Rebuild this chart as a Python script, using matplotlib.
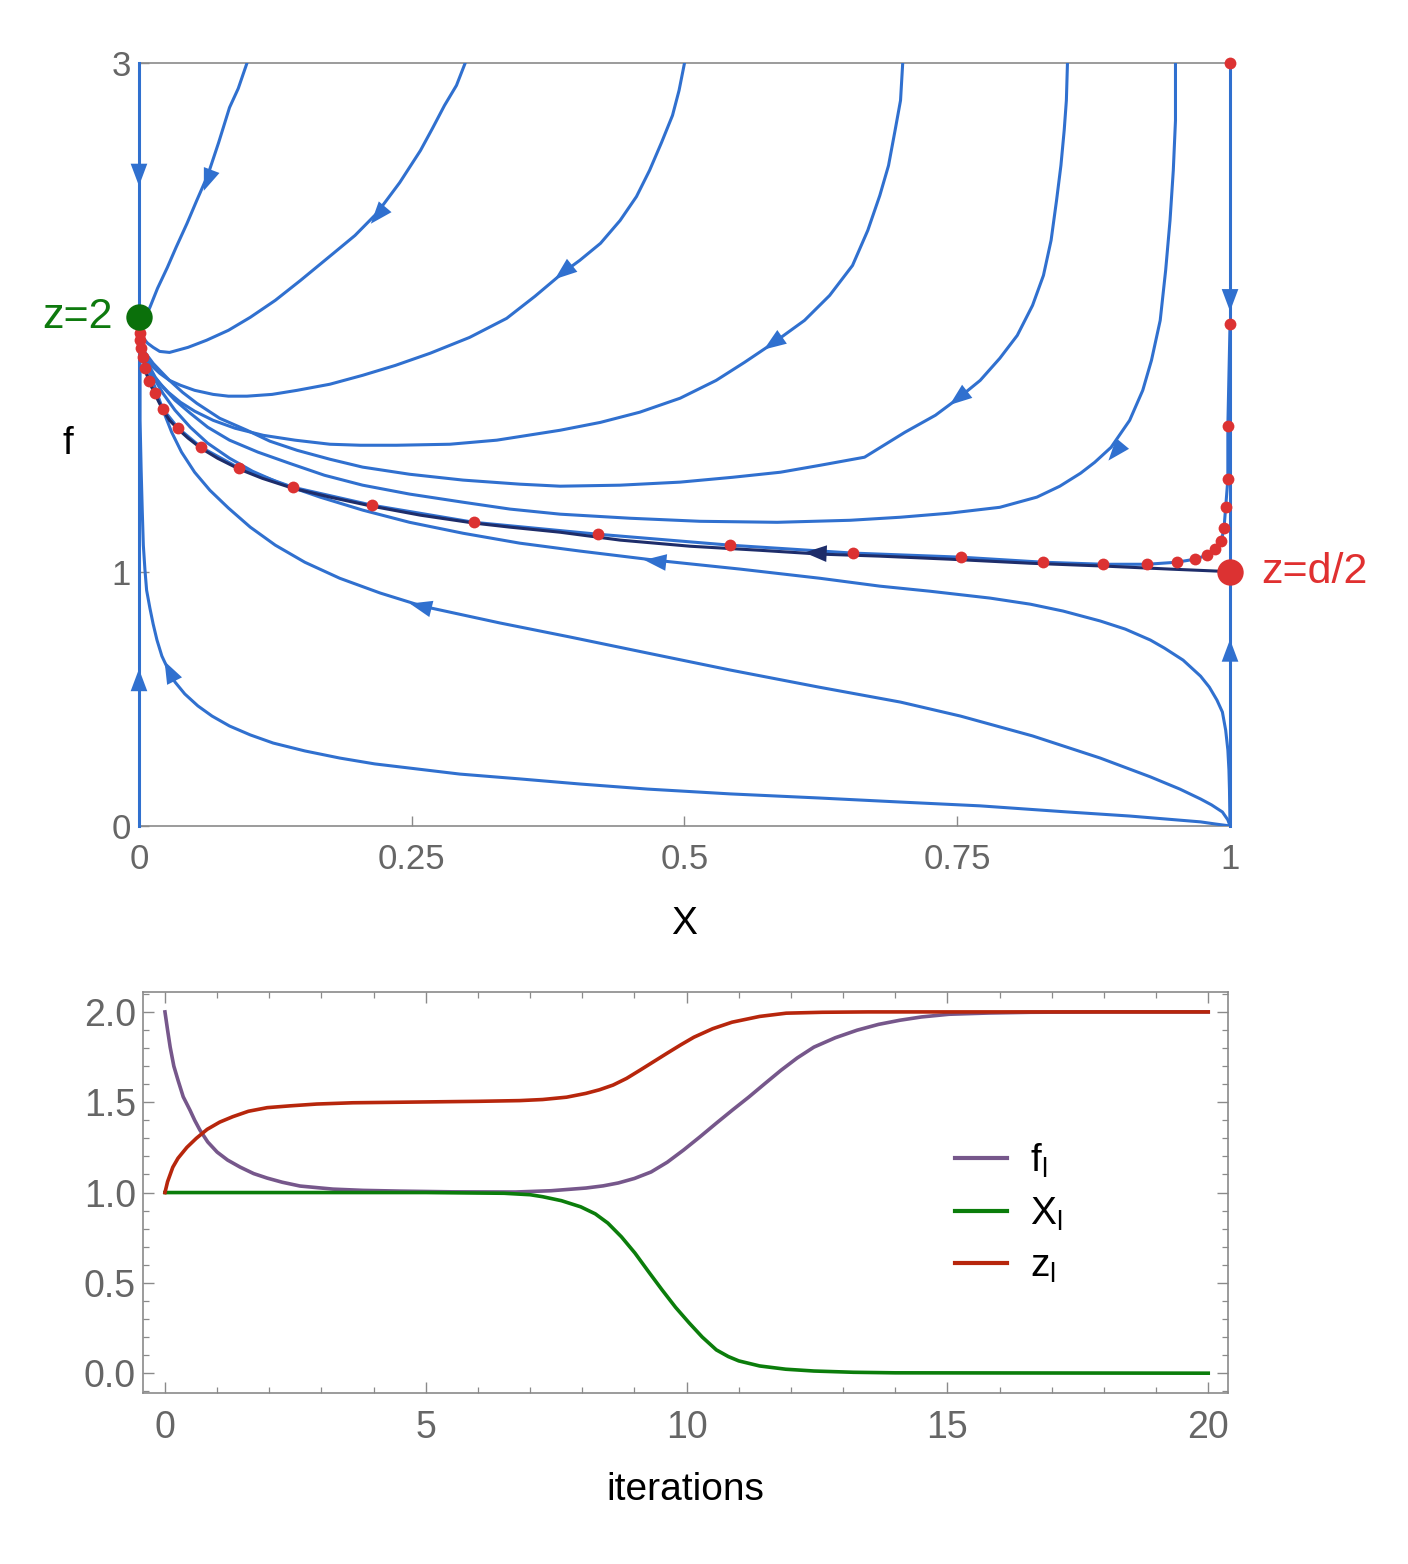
import numpy as np
import matplotlib
matplotlib.use("Agg")
import matplotlib.pyplot as plt
from matplotlib.patches import FancyArrowPatch
from matplotlib.ticker import MultipleLocator, FormatStrFormatter

plt.rcParams['font.family'] = ['Liberation Sans', 'DejaVu Sans']
plt.rcParams['mathtext.default'] = 'regular'

# ---------------- top panel: stream lines (X, f), listed in flow direction
sA_x = [0.099, 0.091, 0.083, 0.073, 0.063, 0.053, 0.044, 0.034, 0.026, 0.017, 0.010, 0.0055, 0.002, 0.001]
sA_f = [3.0, 2.900, 2.825, 2.687, 2.558, 2.460, 2.369, 2.275, 2.196, 2.114, 2.039, 1.996, 1.957, 1.929]

sB_x = [0.299, 0.291, 0.280, 0.269, 0.258, 0.239, 0.218, 0.198, 0.178, 0.148, 0.125, 0.102, 0.082,
        0.062, 0.045, 0.028, 0.019, 0.013, 0.008, 0.0055, 0.003, 0.001]
sB_f = [3.0, 2.912, 2.833, 2.743, 2.656, 2.530, 2.409, 2.322, 2.251, 2.145, 2.067, 2.0, 1.949,
        1.910, 1.882, 1.862, 1.866, 1.882, 1.898, 1.910, 1.929, 1.949]

sC_x = [0.500, 0.495, 0.489, 0.479, 0.468, 0.456, 0.441, 0.423, 0.404, 0.389, 0.363, 0.337, 0.303,
        0.267, 0.235, 0.205, 0.175, 0.145, 0.122, 0.099, 0.082, 0.068, 0.051, 0.038, 0.028, 0.019,
        0.013, 0.008, 0.004, 0.001]
sC_f = [3.0, 2.892, 2.794, 2.688, 2.578, 2.475, 2.381, 2.291, 2.224, 2.177, 2.083, 1.996, 1.921,
        1.859, 1.811, 1.772, 1.737, 1.713, 1.697, 1.690, 1.690, 1.697, 1.713, 1.733, 1.752, 1.780,
        1.804, 1.831, 1.870, 1.929]

sD_x = [0.700, 0.698, 0.693, 0.687, 0.679, 0.668, 0.654, 0.633, 0.610, 0.581, 0.555, 0.529, 0.496,
        0.459, 0.423, 0.386, 0.328, 0.285, 0.236, 0.203, 0.175, 0.143, 0.114, 0.088, 0.068, 0.051,
        0.038, 0.027, 0.019, 0.013, 0.008, 0.004, 0.001]
sD_f = [3.0, 2.853, 2.735, 2.597, 2.479, 2.342, 2.204, 2.086, 1.988, 1.898, 1.823, 1.752, 1.682,
        1.627, 1.587, 1.556, 1.517, 1.501, 1.497, 1.497, 1.501, 1.517, 1.536, 1.564, 1.595, 1.631,
        1.666, 1.705, 1.741, 1.772, 1.804, 1.859, 1.917]

sE_x = [0.851, 0.850, 0.848, 0.845, 0.841, 0.836, 0.829, 0.819, 0.805, 0.789, 0.771, 0.751, 0.730,
        0.702, 0.665, 0.624, 0.588, 0.544, 0.496, 0.441, 0.386, 0.349, 0.297, 0.248, 0.205, 0.175,
        0.145, 0.120, 0.099, 0.074, 0.053, 0.040, 0.028, 0.019, 0.013, 0.0055, 0.001]
sE_f = [3.0, 2.853, 2.735, 2.597, 2.460, 2.303, 2.165, 2.047, 1.929, 1.839, 1.752, 1.682, 1.615,
        1.548, 1.450, 1.418, 1.391, 1.371, 1.352, 1.340, 1.336, 1.344, 1.360, 1.383, 1.411, 1.442,
        1.477, 1.513, 1.556, 1.603, 1.662, 1.705, 1.752, 1.792, 1.819, 1.862, 1.917]

sF_x = [0.950, 0.950, 0.948, 0.945, 0.941, 0.936, 0.928, 0.920, 0.908, 0.891, 0.876, 0.863, 0.844,
        0.823, 0.789, 0.743, 0.698, 0.652, 0.585, 0.514, 0.450, 0.386, 0.340, 0.297, 0.248, 0.205,
        0.170, 0.138, 0.109, 0.083, 0.063, 0.047, 0.033, 0.022, 0.015, 0.010, 0.0055, 0.004, 0.001]
sF_f = [3.0, 2.774, 2.578, 2.381, 2.185, 1.988, 1.831, 1.713, 1.595, 1.489, 1.430, 1.387, 1.336,
        1.293, 1.253, 1.230, 1.214, 1.202, 1.194, 1.198, 1.210, 1.226, 1.246, 1.273, 1.305, 1.340,
        1.379, 1.426, 1.470, 1.517, 1.568, 1.623, 1.674, 1.725, 1.764, 1.804, 1.839, 1.862, 1.917]

sG_x = [1.0, 0.9995, 0.999, 0.998, 0.996, 0.993, 0.988, 0.981, 0.973, 0.957, 0.940, 0.927, 0.904,
        0.881, 0.847, 0.817, 0.780, 0.725, 0.679, 0.624, 0.551, 0.473, 0.404, 0.349, 0.297, 0.248,
        0.205, 0.166, 0.129, 0.104, 0.083, 0.063, 0.047, 0.033, 0.022, 0.015, 0.010, 0.0055, 0.004,
        0.001]
sG_f = [0.0, 0.141, 0.220, 0.299, 0.377, 0.448, 0.495, 0.546, 0.589, 0.652, 0.699, 0.731, 0.774,
        0.806, 0.845, 0.872, 0.896, 0.923, 0.943, 0.974, 1.010, 1.045, 1.081, 1.112, 1.151, 1.194,
        1.242, 1.293, 1.348, 1.395, 1.446, 1.505, 1.568, 1.635, 1.701, 1.752, 1.792, 1.839, 1.862,
        1.917]

sH_x = [1.0, 0.998, 0.993, 0.983, 0.973, 0.954, 0.927, 0.881, 0.819, 0.753, 0.698, 0.623, 0.542,
        0.466, 0.395, 0.331, 0.260, 0.221, 0.184, 0.152, 0.125, 0.102, 0.082, 0.065, 0.051, 0.039,
        0.030, 0.022, 0.015, 0.009, 0.0046, 0.001]
sH_f = [0.0, 0.024, 0.055, 0.083, 0.106, 0.145, 0.193, 0.267, 0.354, 0.432, 0.487, 0.546, 0.613,
        0.680, 0.743, 0.798, 0.864, 0.916, 0.974, 1.037, 1.104, 1.175, 1.250, 1.320, 1.391, 1.470,
        1.548, 1.635, 1.721, 1.792, 1.851, 1.917]

sI_x = [1.0, 0.986, 0.973, 0.908, 0.851, 0.771, 0.698, 0.623, 0.542, 0.466, 0.404, 0.349, 0.294,
        0.255, 0.216, 0.184, 0.152, 0.123, 0.102, 0.083, 0.067, 0.054, 0.042, 0.033, 0.027, 0.021,
        0.0165, 0.013, 0.010, 0.007, 0.0055, 0.004, 0.003, 0.002, 0.001, 0.001, 0.001]
sI_f = [0.0, 0.008, 0.016, 0.039, 0.055, 0.079, 0.094, 0.110, 0.126, 0.145, 0.165, 0.185, 0.204,
        0.224, 0.244, 0.267, 0.295, 0.326, 0.358, 0.393, 0.432, 0.472, 0.519, 0.566, 0.613, 0.668,
        0.731, 0.794, 0.857, 0.927, 1.006, 1.104, 1.242, 1.399, 1.595, 1.752, 1.917]

# unstable branch leaving the saddle (1, 1)
navy_x = [1.0, 0.945, 0.884, 0.817, 0.743, 0.679, 0.624, 0.569, 0.505, 0.441, 0.386, 0.340, 0.307,
          0.258, 0.214, 0.175, 0.141, 0.113, 0.092, 0.072, 0.057, 0.045, 0.036, 0.028, 0.022, 0.016,
          0.010, 0.006, 0.004, 0.002, 0.001]
navy_f = [1.0, 1.010, 1.022, 1.033, 1.049, 1.061, 1.069, 1.084, 1.100, 1.124, 1.155, 1.175, 1.191,
          1.222, 1.257, 1.293, 1.328, 1.367, 1.403, 1.446, 1.485, 1.525, 1.560, 1.595, 1.635, 1.686,
          1.741, 1.792, 1.839, 1.878, 1.917]

# iterates (red dots)
dots_x = [1.0, 1.0, 0.998, 0.998, 0.996, 0.9945, 0.992, 0.986, 0.979, 0.968, 0.951, 0.924, 0.884, 0.829,
          0.753, 0.654, 0.542, 0.421, 0.307, 0.214, 0.141, 0.092, 0.057, 0.036, 0.022, 0.015, 0.009,
          0.0055, 0.0037, 0.002, 0.001, 0.001]
dots_f = [3.0, 1.972, 1.572, 1.363, 1.253, 1.171, 1.120, 1.088, 1.065, 1.049, 1.037, 1.029, 1.029, 1.037,
          1.057, 1.073, 1.104, 1.147, 1.194, 1.261, 1.332, 1.407, 1.489, 1.564, 1.639, 1.701, 1.749,
          1.800, 1.843, 1.878, 1.910, 1.937]

# arrow positions on each stream line
arrow_pos = {'A': (0.063, 2.538), 'B': (0.219, 2.401), 'C': (0.389, 2.177), 'D': (0.581, 1.898),
             'E': (0.751, 1.682), 'F': (0.895, 1.470), 'G': (0.473, 1.041), 'H': (0.258, 0.864),
             'I': (0.028, 0.609)}
navy_arrow = (0.620, 1.073)

# ---------------- bottom panel: iterations
t_f = [0, 0.05, 0.1, 0.17, 0.25, 0.35, 0.48, 0.57, 0.67, 0.82, 1.0, 1.2, 1.44, 1.7, 1.96, 2.25, 2.59,
       3.22, 3.8, 4.5, 5.5, 6.72, 7.4, 8.07, 8.4, 8.69, 9.0, 9.32, 9.63, 9.94, 10.25, 10.57, 10.88,
       11.19, 11.5, 11.81, 12.12, 12.44, 12.85, 13.27, 13.68, 14.09, 14.5, 15.03, 15.8, 16.59, 18, 20]
f_l = [2.0, 1.90, 1.805, 1.70, 1.622, 1.53, 1.456, 1.40, 1.346, 1.28, 1.224, 1.18, 1.141, 1.105, 1.080,
       1.057, 1.036, 1.019, 1.012, 1.008, 1.004, 1.003, 1.010, 1.025, 1.037, 1.053, 1.078, 1.114, 1.168,
       1.235, 1.307, 1.384, 1.457, 1.528, 1.603, 1.677, 1.745, 1.805, 1.857, 1.899, 1.931, 1.954, 1.972,
       1.987, 1.994, 1.998, 2.0, 2.0]

t_X = [0, 5.0, 6.5, 7.0, 7.24, 7.6, 7.97, 8.25, 8.49, 8.75, 9.01, 9.27, 9.53, 9.79, 10.05, 10.3, 10.57,
       10.8, 11.0, 11.4, 11.9, 12.44, 13.2, 14.0, 20]
X_l = [1.0, 1.0, 0.996, 0.988, 0.977, 0.955, 0.921, 0.882, 0.831, 0.755, 0.665, 0.562, 0.461, 0.364,
       0.278, 0.200, 0.129, 0.092, 0.068, 0.040, 0.022, 0.012, 0.005, 0.002, 0.0]

t_z = [0, 0.05, 0.15, 0.25, 0.42, 0.6, 0.81, 1.05, 1.3, 1.6, 1.96, 2.4, 2.91, 3.6, 4.5, 6.0, 6.8, 7.24,
       7.7, 8.07, 8.33, 8.59, 8.85, 9.11, 9.37, 9.63, 9.89, 10.14, 10.5, 10.87, 11.4, 11.91, 12.6, 13.48, 20]
z_l = [1.0, 1.06, 1.14, 1.19, 1.25, 1.30, 1.35, 1.39, 1.42, 1.45, 1.47, 1.48, 1.49, 1.497, 1.50, 1.505,
       1.509, 1.515, 1.528, 1.549, 1.569, 1.595, 1.632, 1.678, 1.725, 1.772, 1.818, 1.860, 1.907, 1.943,
       1.975, 1.993, 1.998, 2.0, 2.0]

blue = '#3070cf'
navy = '#1e2d6a'
red = '#dc3232'
green = '#0b700b'
gray = '#8a8a8a'
tickc = '#666666'

fig = plt.figure(figsize=(14.08, 15.64), dpi=100)

# ================= top panel
ax = fig.add_axes([0.0987, 0.4719, 0.7749, 0.4878])
ax.set_xlim(0, 1)
ax.set_ylim(0, 3)

curves = {'A': (sA_x, sA_f), 'B': (sB_x, sB_f), 'C': (sC_x, sC_f), 'D': (sD_x, sD_f),
          'E': (sE_x, sE_f), 'F': (sF_x, sF_f), 'G': (sG_x, sG_f), 'H': (sH_x, sH_f),
          'I': (sI_x, sI_f)}
for k, (xs, fs) in curves.items():
    ax.plot(xs, fs, color=blue, lw=2.2, zorder=3, solid_joinstyle='round')

# edges x=0 and x=1
ax.plot([0, 0], [0, 3], color=blue, lw=2.2, zorder=3, clip_on=False)
ax.plot([1, 1], [0, 3], color=blue, lw=2.2, zorder=3, clip_on=False)
# stream line along the iterates
ax.plot(dots_x[1:], dots_f[1:], color=blue, lw=2.2, zorder=3, solid_joinstyle='round')
ax.plot(navy_x, navy_f, color=navy, lw=2.2, zorder=3.5, solid_joinstyle='round')


def arrow_on(xs, fs, pos, color, size=22):
    pts = ax.transData.transform(np.column_stack([xs, fs]))
    p = ax.transData.transform(pos)
    i = int(np.argmin(np.hypot(pts[:, 0] - p[0], pts[:, 1] - p[1])))
    i0, i1 = max(i - 1, 0), min(i + 1, len(pts) - 1)
    d = pts[i1] - pts[i0]
    d = d / np.hypot(d[0], d[1])
    inv = ax.transData.inverted()
    a = inv.transform(p - d * size / 2)
    b = inv.transform(p + d * size / 2)
    ax.add_patch(FancyArrowPatch(a, b, arrowstyle='-|>,head_length=0.8,head_width=0.3',
                                 mutation_scale=20, color=color, lw=0, shrinkA=0, shrinkB=0,
                                 zorder=4, clip_on=False))


for k, (xs, fs) in curves.items():
    arrow_on(xs, fs, arrow_pos[k], blue)
arrow_on(navy_x, navy_f, navy_arrow, navy)
arrow_on([0, 0], [3, 2], (0, 2.56), blue)
arrow_on([0, 0], [0, 2], (0, 0.574), blue)
arrow_on([1, 1], [3, 1], (1, 2.067), blue)
arrow_on([1, 1], [0, 1], (1, 0.69), blue)

ax.plot(dots_x, dots_f, 'o', color=red, ms=8.5, mec='none', zorder=5, clip_on=False)
ax.plot([0], [2], 'o', color=green, ms=19, mec='none', zorder=6, clip_on=False)
ax.plot([1], [1], 'o', color=red, ms=19, mec='none', zorder=6, clip_on=False)
ax.text(-0.024, 2.0, 'z=2', color='#0e7a0e', fontsize=31, ha='right', va='center')
ax.text(1.029, 1.0, 'z=d/2', color='#e03030', fontsize=31, ha='left', va='center')

ax.set_xticks([0, 0.25, 0.5, 0.75, 1])
ax.set_xticklabels(['0', '0.25', '0.5', '0.75', '1'])
ax.set_yticks([0, 1, 3])
ax.set_yticklabels(['0', '1', '3'])
ax.tick_params(direction='in', length=7, width=1, color=gray, labelcolor=tickc, labelsize=25)
ax.tick_params(axis='x', pad=12)
ax.tick_params(axis='y', pad=6)
for s in ax.spines.values():
    s.set_color(gray)
    s.set_linewidth(1.2)
ax.set_xlabel('X', fontsize=28)
ax.xaxis.set_label_coords(0.5, -0.105)
ax.set_ylabel('f', fontsize=28, rotation=0, va='center', ha='center')
ax.yaxis.set_label_coords(-0.065, 0.5)

# ================= bottom panel
bx = fig.add_axes([0.1016, 0.1093, 0.7706, 0.2564])
bx.plot(t_f, f_l, color='#76578b', lw=2.6, label='$f_l$', solid_joinstyle='round')
bx.plot(t_X, X_l, color='#0b7d0b', lw=2.6, label='$X_l$', solid_joinstyle='round')
bx.plot(t_z, z_l, color='#b7260c', lw=2.6, label='$z_l$', solid_joinstyle='round')
bx.set_xlim(-0.42, 20.38)
bx.set_ylim(-0.11, 2.11)
bx.xaxis.set_major_locator(MultipleLocator(5))
bx.xaxis.set_minor_locator(MultipleLocator(1))
bx.yaxis.set_major_locator(MultipleLocator(0.5))
bx.yaxis.set_minor_locator(MultipleLocator(0.1))
bx.yaxis.set_major_formatter(FormatStrFormatter('%.1f'))
bx.tick_params(which='both', direction='in', top=True, right=True, color=gray,
               labelcolor=tickc, labelsize=27)
bx.tick_params(which='major', length=8, width=1)
bx.tick_params(which='minor', length=4.5, width=0.9)
bx.tick_params(axis='x', which='both', pad=12)
bx.tick_params(axis='y', which='both', pad=5)
for s in bx.spines.values():
    s.set_color(gray)
    s.set_linewidth(1.2)
bx.set_xlabel('iterations', fontsize=28)
bx.xaxis.set_label_coords(0.5, -0.197)
leg = bx.legend(loc='center left', bbox_to_anchor=(0.748, 0.449), frameon=False, fontsize=28,
                handlelength=1.34, handletextpad=0.6, labelspacing=0.4, borderpad=0,
                borderaxespad=0)
for h in leg.get_lines():
    h.set_linewidth(3.0)

fig.savefig('out.png', dpi=100)
